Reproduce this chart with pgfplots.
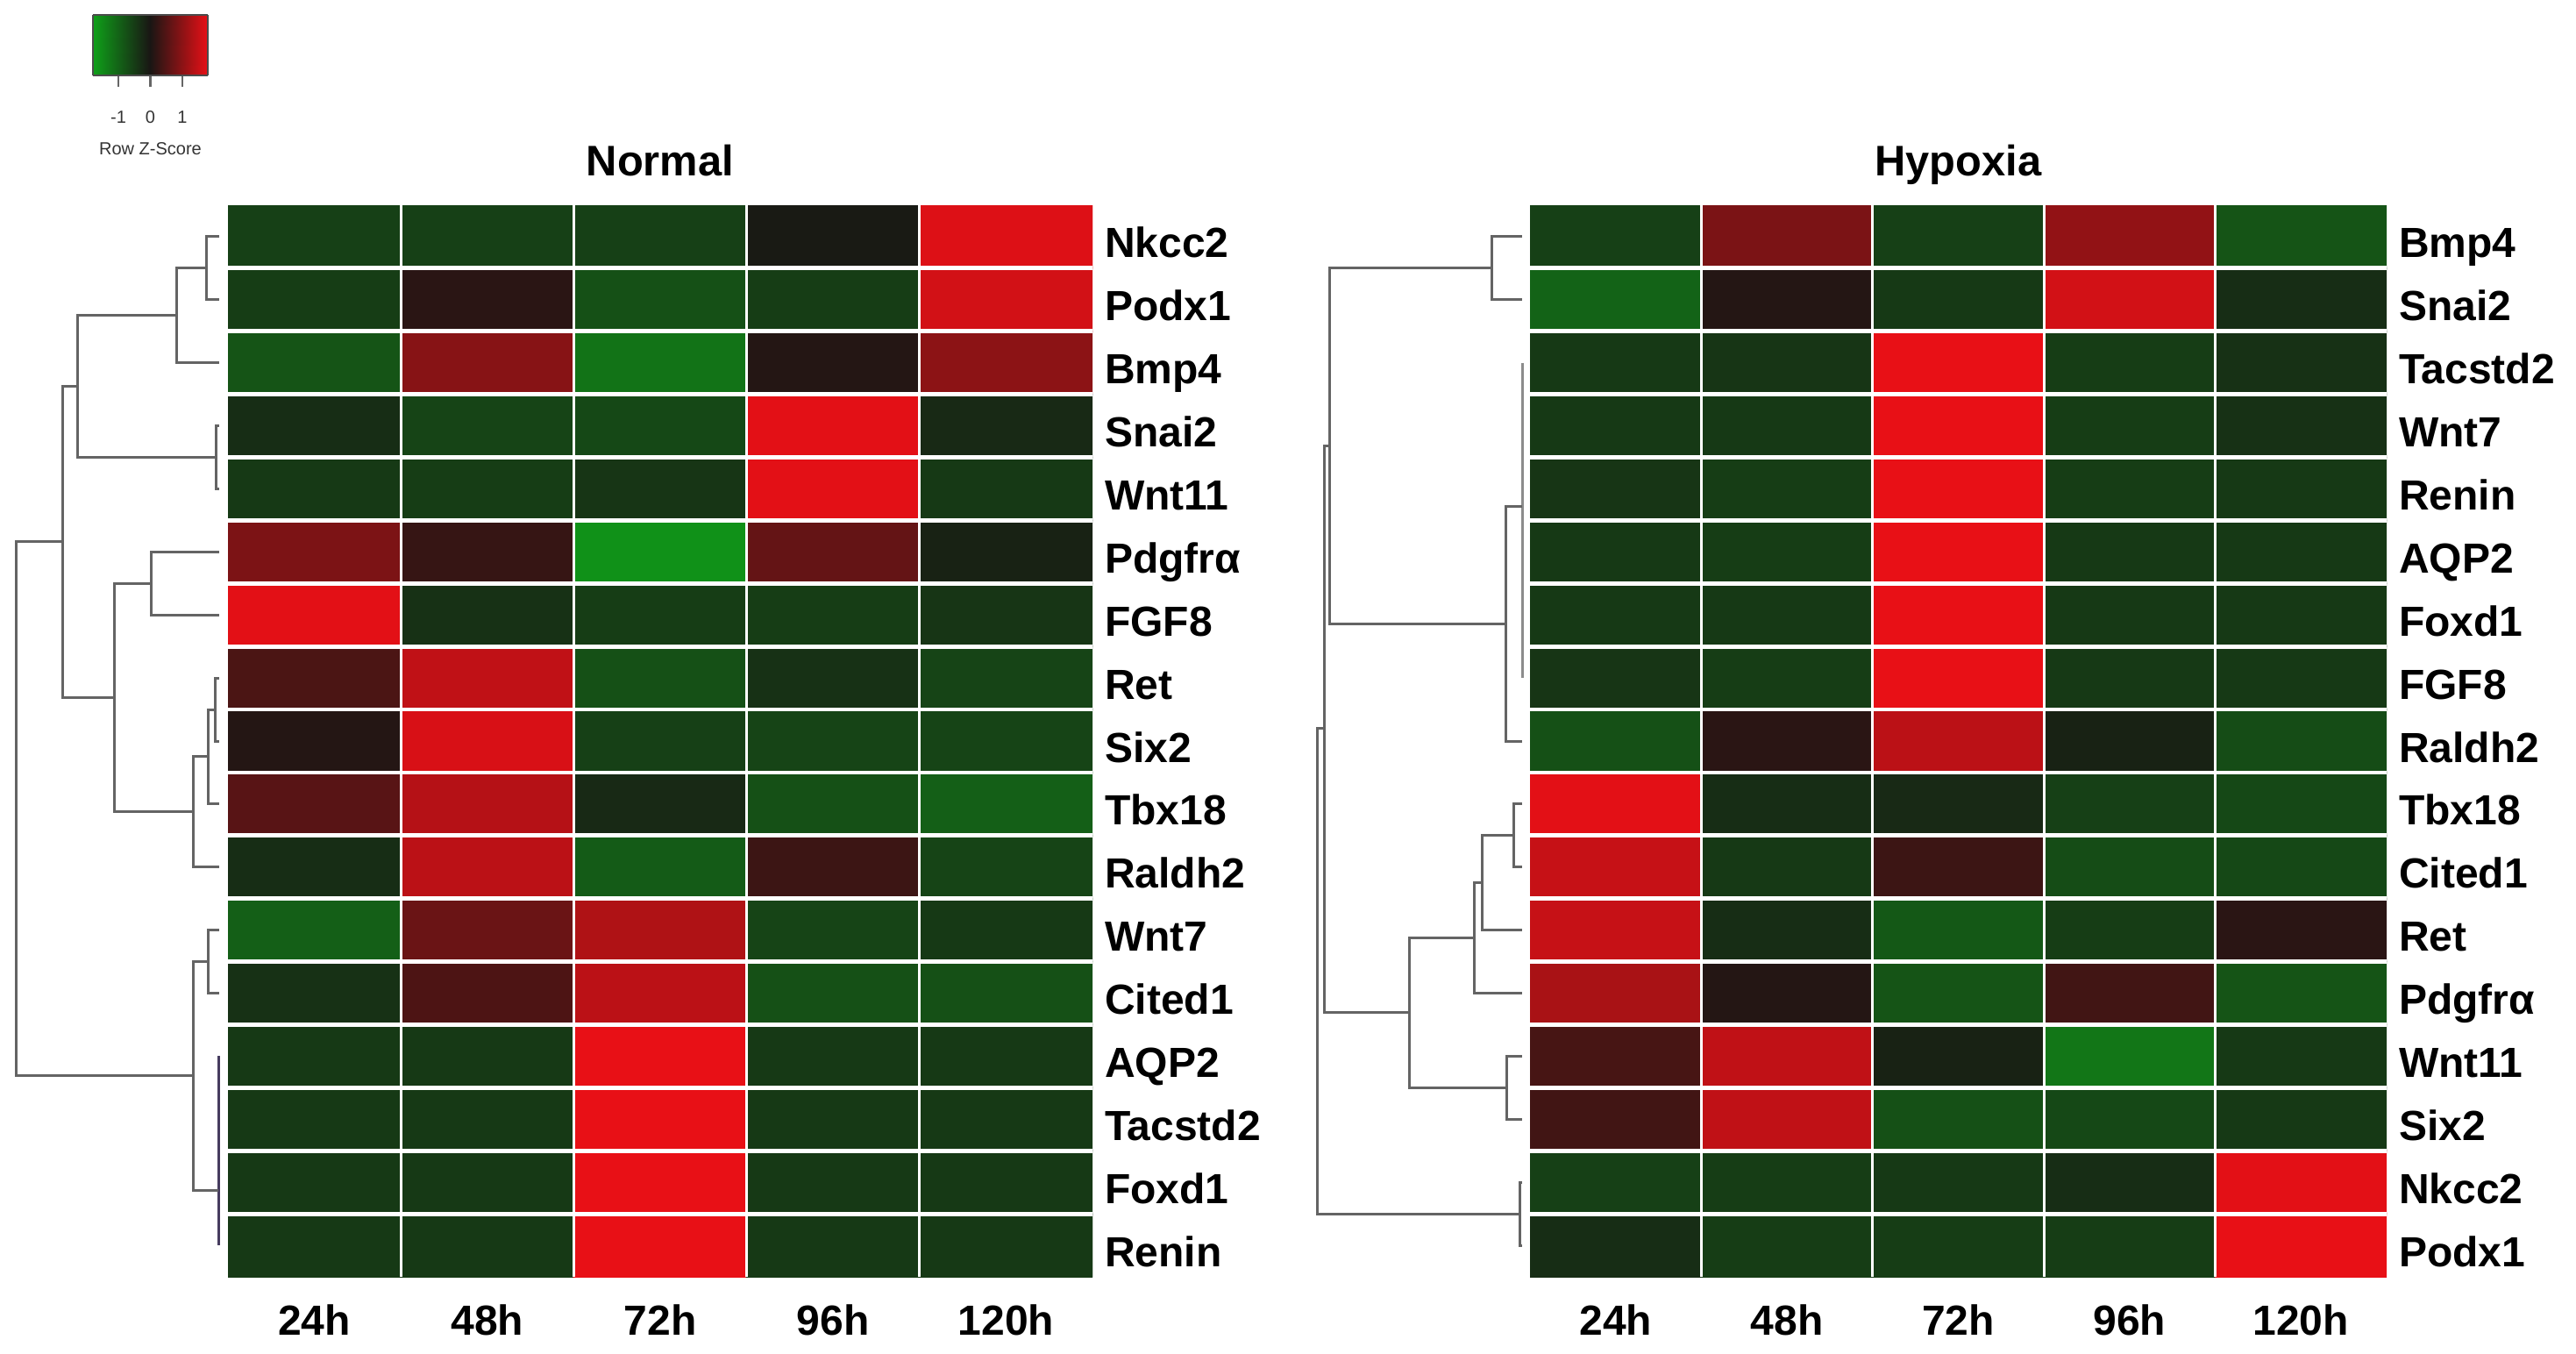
\documentclass[border=0pt]{standalone}
\usepackage{pgfplots}
\pgfplotsset{compat=1.18}
\usepackage{fontspec}
\setmainfont{Liberation Sans}
\definecolor{dendro}{RGB}{100,100,100}
\pgfplotsset{
  gkr/.style={colormap={gkr}{rgb255=(15,160,25) rgb255=(25,22,20) rgb255=(232,16,22)}},
  hm/.style={scale only axis, height=305.5pt, anchor=south west,
    xmin=-0.5, xmax=4.5, ymin=-0.5, ymax=16.5, y dir=reverse,
    gkr, point meta min=-1.79, point meta max=1.79,
    xtick={0,...,4}, xticklabels={24h,48h,72h,96h,120h},
    ytick={0,...,16}, yticklabel pos=right,
    major tick length=0pt, minor tick length=0pt,
    minor xtick={0.5,1.5,2.5,3.5}, minor ytick={0.5,1.5,...,15.5},
    xminorgrids, yminorgrids,
    minor x grid style={white, line width=0.8pt},
    minor y grid style={white, line width=1.2pt},
    axis on top, axis line style={draw=none},
    ticklabel style={font=\bfseries\fontsize{12}{14}\selectfont},
    xticklabel style={anchor=base, yshift=-16.5pt},
    yticklabel style={anchor=base west, yshift=-6pt},
    title style={font=\bfseries\fontsize{12.2}{14}\selectfont, at={(0.5,1)}, anchor=base, yshift=2.4pt}},
  dg/.style={scale only axis, height=305.5pt, anchor=south west,
    ymin=-0.5, ymax=16.5, y dir=reverse, hide axis, clip=false},
  dl/.style={dendro, line width=0.75pt, no marks},
}
\begin{document}
\begin{tikzpicture}
\useasboundingbox (0,0) rectangle (734.5pt,386pt);

% colour key
\begin{axis}[scale only axis, at={(26.5pt,364.5pt)}, anchor=south west,
  width=32.75pt, height=17.25pt, xmin=-1.8, xmax=1.8, ymin=0, ymax=1,
  view={0}{90}, gkr, point meta min=-1.79, point meta max=1.79,
  xtick={-1,0,1}, xticklabels={-1,0,1}, ytick=\empty, xtick pos=bottom,
  tick align=outside, major tick length=3.25pt,
  xtick style={black!60, line width=0.6pt},
  axis line style={black!70, line width=0.3pt}, axis on top,
  xticklabel style={font=\fontsize{5}{6}\selectfont, text=black!80, anchor=center, yshift=-8.75pt},
  xlabel={Row Z-Score},
  xlabel style={font=\fontsize{5}{6}\selectfont, text=black!80, at={(axis description cs:0.5,0)}, anchor=center, yshift=-21pt}]
\addplot3[surf, shader=interp, mesh/cols=3, point meta=x] coordinates {
(-1.8,0,0) (0,0,0) (1.8,0,0)
(-1.8,1,0) (0,1,0) (1.8,1,0)};
\end{axis}

% Normal dendrogram
\begin{axis}[dg, at={(0pt,22pt)}, width=65pt, xmin=0, xmax=260]
\addplot[dl] coordinates {(250,0) (235,0) (235,1) (250,1)};
\addplot[dl] coordinates {(235,0.5) (201.7,0.5) (201.7,2) (250,2)};
\addplot[dl] coordinates {(250,3) (246,3) (246,4) (250,4)};
\addplot[dl] coordinates {(201.7,1.25) (88.3,1.25) (88.3,3.5) (246,3.5)};
\addplot[dl] coordinates {(250,5) (172.7,5) (172.7,6) (250,6)};
\addplot[dl] coordinates {(250,7) (245,7) (245,8) (250,8)};
\addplot[dl] coordinates {(245,7.5) (237.3,7.5) (237.3,9) (250,9)};
\addplot[dl] coordinates {(237.3,8.25) (220,8.25) (220,10) (250,10)};
\addplot[dl] coordinates {(172.7,5.5) (130,5.5) (130,9.125) (220,9.125)};
\addplot[dl] coordinates {(88.3,2.375) (71.7,2.375) (71.7,7.3125) (130,7.3125)};
\addplot[dl] coordinates {(250,11) (237.3,11) (237.3,12) (250,12)};
\addplot[dl, color={rgb,255:red,70;green,60;blue,95}] coordinates {(249,13) (249,16)};
\addplot[dl] coordinates {(237.3,11.5) (220,11.5) (220,15.125) (249,15.125)};
\addplot[dl] coordinates {(71.7,4.84) (18.3,4.84) (18.3,13.31) (220,13.31)};
\end{axis}

% Normal heatmap
\begin{axis}[hm, at={(65pt,22pt)}, width=246.5pt, title={Normal},
  yticklabels={Nkcc2,Podx1,Bmp4,Snai2,Wnt11,Pdgfrα,FGF8,Ret,Six2,Tbx18,Raldh2,Wnt7,Cited1,AQP2,Tacstd2,Foxd1,Renin}]
\addplot[matrix plot*, mesh/cols=5, point meta=explicit] table[meta=z] {
x y z
0 0 -0.55
1 0 -0.55
2 0 -0.55
3 0 -0.05
4 0 1.70
0 1 -0.50
1 1 0.15
2 1 -0.75
3 1 -0.50
4 1 1.60
0 2 -0.80
1 2 0.95
2 2 -1.20
3 2 0.10
4 2 1.00
0 3 -0.30
1 3 -0.60
2 3 -0.65
3 3 1.75
4 3 -0.25
0 4 -0.45
1 4 -0.50
2 4 -0.40
3 4 1.75
4 4 -0.45
0 5 0.86
1 5 0.25
2 5 -1.60
3 5 0.65
4 5 -0.15
0 6 1.75
1 6 -0.35
2 6 -0.50
3 6 -0.50
4 6 -0.40
0 7 0.43
1 7 1.45
2 7 -0.75
3 7 -0.35
4 7 -0.60
0 8 0.10
1 8 1.65
2 8 -0.55
3 8 -0.60
4 8 -0.60
0 9 0.55
1 9 1.35
2 9 -0.25
3 9 -0.75
4 9 -0.95
0 10 -0.30
1 10 1.40
2 10 -0.90
3 10 0.30
4 10 -0.60
0 11 -0.95
1 11 0.70
2 11 1.30
3 11 -0.60
4 11 -0.45
0 12 -0.35
1 12 0.45
2 12 1.40
3 12 -0.75
4 12 -0.75
0 13 -0.45
1 13 -0.45
2 13 1.79
3 13 -0.45
4 13 -0.45
0 14 -0.45
1 14 -0.45
2 14 1.79
3 14 -0.45
4 14 -0.45
0 15 -0.45
1 15 -0.45
2 15 1.79
3 15 -0.45
4 15 -0.45
0 16 -0.45
1 16 -0.45
2 16 1.79
3 16 -0.45
4 16 -0.45
};
\end{axis}

% Hypoxia dendrogram
\begin{axis}[dg, at={(372.5pt,22pt)}, width=63.75pt, xmin=1490, xmax=1745]
\addplot[dl] coordinates {(1736,0) (1701.7,0) (1701.7,1) (1736,1)};
\addplot[dl, color=black!45] coordinates {(1736,2) (1736,7)};
\addplot[dl] coordinates {(1736,4.28) (1717.7,4.28) (1717.7,8) (1736,8)};
\addplot[dl] coordinates {(1701.7,0.5) (1516,0.5) (1516,6.14) (1717.7,6.14)};
\addplot[dl] coordinates {(1736,9) (1726,9) (1726,10) (1736,10)};
\addplot[dl] coordinates {(1726,9.5) (1690,9.5) (1690,11) (1736,11)};
\addplot[dl] coordinates {(1690,10.25) (1681.7,10.25) (1681.7,12) (1736,12)};
\addplot[dl] coordinates {(1736,13) (1718.3,13) (1718.3,14) (1736,14)};
\addplot[dl] coordinates {(1681.7,11.125) (1607.3,11.125) (1607.3,13.5) (1718.3,13.5)};
\addplot[dl] coordinates {(1516,3.32) (1510,3.32) (1510,12.31) (1607.3,12.31)};
\addplot[dl] coordinates {(1736,15) (1733.3,15) (1733.3,16) (1736,16)};
\addplot[dl] coordinates {(1510,7.8) (1502.7,7.8) (1502.7,15.5) (1733.3,15.5)};
\end{axis}

% Hypoxia heatmap
\begin{axis}[hm, at={(436.25pt,22pt)}, width=244.25pt, title={Hypoxia},
  yticklabels={Bmp4,Snai2,Tacstd2,Wnt7,Renin,AQP2,Foxd1,FGF8,Raldh2,Tbx18,Cited1,Ret,Pdgfrα,Wnt11,Six2,Nkcc2,Podx1}]
\addplot[matrix plot*, mesh/cols=5, point meta=explicit] table[meta=z] {
x y z
0 0 -0.55
1 0 0.85
2 0 -0.55
3 0 1.05
4 0 -0.80
0 1 -1.00
1 1 0.10
2 1 -0.45
3 1 1.60
4 1 -0.30
0 2 -0.45
1 2 -0.40
2 2 1.79
3 2 -0.50
4 2 -0.35
0 3 -0.45
1 3 -0.45
2 3 1.79
3 3 -0.50
4 3 -0.35
0 4 -0.40
1 4 -0.50
2 4 1.79
3 4 -0.50
4 4 -0.45
0 5 -0.45
1 5 -0.50
2 5 1.79
3 5 -0.45
4 5 -0.45
0 6 -0.45
1 6 -0.45
2 6 1.79
3 6 -0.45
4 6 -0.45
0 7 -0.40
1 7 -0.50
2 7 1.79
3 7 -0.45
4 7 -0.45
0 8 -0.75
1 8 0.15
2 8 1.40
3 8 -0.15
4 8 -0.70
0 9 1.75
1 9 -0.30
2 9 -0.25
3 9 -0.55
4 9 -0.65
0 10 1.50
1 10 -0.45
2 10 0.30
3 10 -0.70
4 10 -0.65
0 11 1.50
1 11 -0.30
2 11 -0.85
3 11 -0.50
4 11 0.15
0 12 1.25
1 12 0.10
2 12 -0.80
3 12 0.35
4 12 -0.80
0 13 0.40
1 13 1.45
2 13 -0.15
3 13 -1.25
4 13 -0.45
0 14 0.35
1 14 1.45
2 14 -0.75
3 14 -0.65
4 14 -0.45
0 15 -0.55
1 15 -0.50
2 15 -0.45
3 15 -0.30
4 15 1.75
0 16 -0.30
1 16 -0.50
2 16 -0.50
3 16 -0.50
4 16 1.79
};
\end{axis}
\end{tikzpicture}
\end{document}
